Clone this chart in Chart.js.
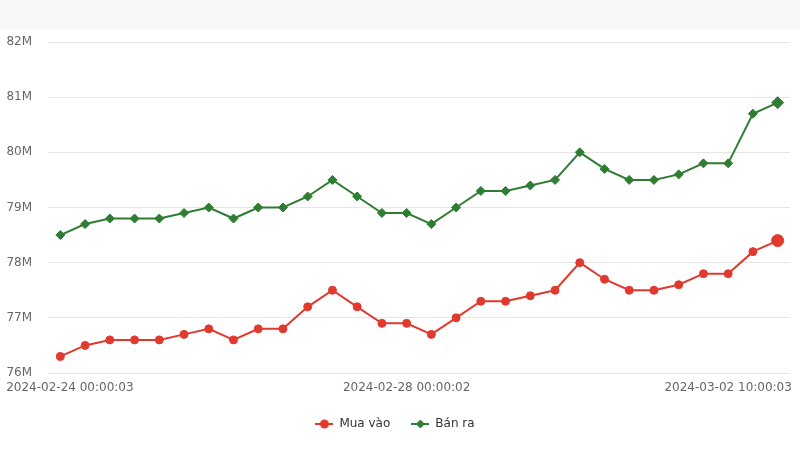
<!DOCTYPE html>
<html>
<head>
<meta charset="utf-8">
<script src="https://cdn.jsdelivr.net/npm/chart.js@4"></script>
<style>
  html, body { margin: 0; padding: 0; background: #ffffff; }
  #wrap { width: 800px; height: 450px; position: relative; }
</style>
</head>
<body>
<div id="wrap"><canvas id="c" width="800" height="450"></canvas></div>
<script>
// ---- data ----
const categories = ['1','2','3','4','5','6','7','8','9','10','11','12','13','14','15',
  '16','17','18','19','20','21','22','23','24','25','26','27','28','29','30'];
const muaVao = [76.3, 76.5, 76.6, 76.6, 76.6, 76.7, 76.8, 76.6, 76.8, 76.8,
  77.2, 77.5, 77.2, 76.9, 76.9, 76.7, 77.0, 77.3, 77.3, 77.4,
  77.5, 78.0, 77.7, 77.5, 77.5, 77.6, 77.8, 77.8, 78.2, 78.4];
const banRa = [78.5, 78.7, 78.8, 78.8, 78.8, 78.9, 79.0, 78.8, 79.0, 79.0,
  79.2, 79.5, 79.2, 78.9, 78.9, 78.7, 79.0, 79.3, 79.3, 79.4,
  79.5, 80.0, 79.7, 79.5, 79.5, 79.6, 79.8, 79.8, 80.7, 80.9];
const tickIndices = [0, 14, 27];
const tickLabels = ['2024-02-24 00:00:03', '2024-02-28 00:00:02', '2024-03-02 10:00:03'];
const seriesNames = ['Mua vào', 'Bán ra'];
const yMin = 76, yMax = 82, yStep = 1;

// ---- styles ----
const RED = '#e03a2f';
const GREEN = '#2e7d32';

function legendIcon(color, style) {
  const cv = document.createElement('canvas');
  cv.width = 18; cv.height = 12;
  const g = cv.getContext('2d');
  g.strokeStyle = color; g.fillStyle = color; g.lineWidth = 2;
  g.beginPath(); g.moveTo(0, 6); g.lineTo(18, 6); g.stroke();
  g.beginPath();
  if (style === 'circle') {
    g.arc(9, 6, 4.5, 0, Math.PI * 2);
  } else {
    g.moveTo(9, 1.5); g.lineTo(13.5, 6); g.lineTo(9, 10.5); g.lineTo(4.5, 6); g.closePath();
  }
  g.fill();
  return cv;
}
const icons = [legendIcon(RED, 'circle'), legendIcon(GREEN, 'diamond')];

Chart.defaults.font.family = "'DejaVu Sans', sans-serif";
Chart.defaults.font.size = 12;
Chart.defaults.color = '#666666';

const bgPlugin = {
  id: 'bg',
  beforeDraw(chart) {
    const ctx = chart.ctx;
    ctx.save();
    ctx.fillStyle = '#ffffff';
    ctx.fillRect(0, 0, chart.width, chart.height);
    const grad = ctx.createLinearGradient(0, 0, 0, 32);
    grad.addColorStop(0, '#f6f7f9');
    grad.addColorStop(0.85, '#f6f7f9');
    grad.addColorStop(1, '#ffffff');
    ctx.fillStyle = grad;
    ctx.fillRect(0, 0, chart.width, 32);
    ctx.restore();
  }
};

const n = categories.length;
const radiiRed = categories.map((_, i) => i === n - 1 ? 6 : 4);
const radiiGreen = categories.map((_, i) => i === n - 1 ? 6 : 4.5);

new Chart(document.getElementById('c'), {
  type: 'line',
  data: {
    labels: categories,
    datasets: [
      {
        label: seriesNames[0],
        data: muaVao,
        borderColor: RED,
        backgroundColor: RED,
        pointBackgroundColor: RED,
        pointBorderColor: RED,
        pointStyle: 'circle',
        pointRadius: radiiRed,
        pointBorderWidth: 1,
        borderWidth: 2,
        tension: 0,
        fill: false
      },
      {
        label: seriesNames[1],
        data: banRa,
        borderColor: GREEN,
        backgroundColor: GREEN,
        pointBackgroundColor: GREEN,
        pointBorderColor: GREEN,
        pointStyle: 'rectRot',
        pointRadius: radiiGreen,
        pointBorderWidth: 1,
        borderWidth: 2,
        tension: 0,
        fill: false
      }
    ]
  },
  options: {
    responsive: false,
    animation: false,
    layout: { padding: { top: 42, right: 10, left: 0, bottom: 10 } },
    plugins: {
      tooltip: { enabled: false },
      legend: {
        position: 'bottom',
        labels: {
          usePointStyle: true,
          pointStyleWidth: 18,
          padding: 21,
          color: '#333333',
          font: { size: 12 },
          generateLabels(chart) {
            const items = Chart.defaults.plugins.legend.labels.generateLabels(chart);
            items.forEach((it, i) => { it.pointStyle = icons[i]; });
            return items;
          }
        }
      }
    },
    scales: {
      x: {
        type: 'category',
        offset: true,
        grid: { display: false, drawTicks: false },
        border: { display: false },
        ticks: {
          autoSkip: false,
          maxRotation: 0,
          minRotation: 0,
          padding: 8,
          color: '#666666',
          callback(val, i) {
            const k = tickIndices.indexOf(i);
            if (k < 0) return null;
            return (k === 0 ? '     ' : '') + tickLabels[k];
          }
        },
        afterFit(scale) { scale.paddingLeft = 0; scale.paddingRight = 0; scale.height = 24; }
      },
      y: {
        min: yMin,
        max: yMax,
        grid: { color: '#e6e6e6', drawTicks: false, lineWidth: 1 },
        border: { display: false },
        ticks: {
          stepSize: yStep,
          padding: 16,
          color: '#666666',
          callback(v) { return v + 'M'; }
        },
        afterFit(scale) { scale.width = 48; }
      }
    }
  },
  plugins: [bgPlugin]
});
</script>
</body>
</html>
